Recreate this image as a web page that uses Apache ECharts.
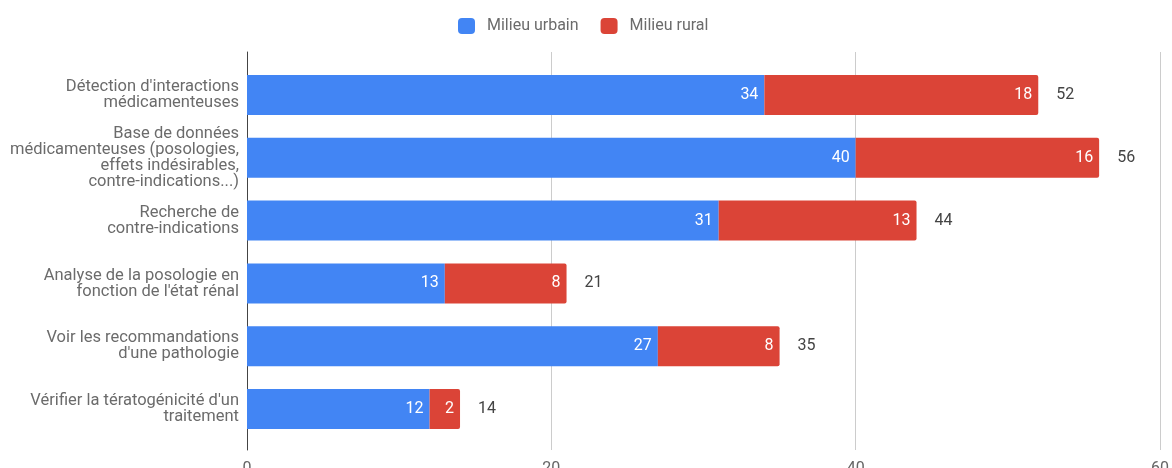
<!DOCTYPE html>
<html>
<head>
<meta charset="utf-8">
<script src="https://cdn.jsdelivr.net/npm/echarts@6/dist/echarts.min.js"></script>
<style>
  html, body { margin: 0; padding: 0; background: #fff; }
  #chart { width: 1172px; height: 468px; }
</style>
</head>
<body>
<div id="chart"></div>
<script>
var categories = [
    "Détection d'interactions\nmédicamenteuses",
    "Base de données\nmédicamenteuses (posologies,\neffets indésirables,\ncontre-indications...)",
    "Recherche de\ncontre-indications",
    "Analyse de la posologie en\nfonction de l'état rénal",
    "Voir les recommandations\nd'une pathologie",
    "Vérifier la tératogénicité d'un\ntraitement"
];
var urbain = [34, 40, 31, 13, 27, 12];
var rural = [18, 16, 13, 8, 8, 2];
var totals = [52, 56, 44, 21, 35, 14];
var xTicks = [0, 20, 40, 60];

var mychart = echarts.init(document.getElementById('chart'));
var font = 'Roboto, Arial, sans-serif';

var option = {
    animation: false,
    textStyle: { fontFamily: font },
    legend: {
        data: ['Milieu urbain', 'Milieu rural'],
        top: 18,
        left: 458,
        padding: 0,
        itemWidth: 17,
        itemHeight: 16,
        itemGap: 22,
        icon: 'roundRect',
        textStyle: { fontSize: 16, color: '#6b6b6b', fontFamily: font, padding: [0, 0, 0, 7] }
    },
    grid: [
        // fond : lignes de grille et graduations
        { left: 247, right: 12, top: 52, height: 398, outerBoundsMode: 'none' },
        // barres
        { left: 247, right: 12, top: 63.5, height: 377, outerBoundsMode: 'none' }
    ],
    xAxis: [
        {
            gridIndex: 0,
            type: 'value',
            min: xTicks[0],
            max: xTicks[xTicks.length - 1],
            interval: 20,
            axisLine: { show: false },
            axisTick: { show: false },
            axisLabel: { fontSize: 16, color: '#666', margin: 11, fontFamily: font },
            splitLine: { show: true, lineStyle: { color: '#cccccc', width: 1 } }
        },
        {
            gridIndex: 1,
            type: 'value',
            min: 0,
            max: 60,
            show: false
        }
    ],
    yAxis: [
        {
            gridIndex: 0,
            type: 'value',
            axisLine: { show: true, lineStyle: { color: '#444', width: 1 } },
            axisTick: { show: false },
            axisLabel: { show: false },
            splitLine: { show: false }
        },
        {
            gridIndex: 1,
            type: 'category',
            inverse: true,
            data: categories,
            axisLine: { show: false },
            axisTick: { show: false },
            axisLabel: {
                fontSize: 16.5,
                color: '#6b6b6b',
                margin: 8,
                lineHeight: 16,
                align: 'right',
                fontFamily: font
            }
        }
    ],
    series: [
        {
            name: 'Milieu urbain',
            type: 'bar',
            xAxisIndex: 1,
            yAxisIndex: 1,
            stack: 'total',
            barWidth: 40,
            data: urbain,
            itemStyle: { color: '#4285F4' },
            label: {
                show: true,
                position: 'insideRight',
                distance: 6,
                color: '#fff',
                fontSize: 16,
                fontFamily: font
            }
        },
        {
            name: 'Milieu rural',
            type: 'bar',
            xAxisIndex: 1,
            yAxisIndex: 1,
            stack: 'total',
            barWidth: 40,
            data: rural,
            itemStyle: { color: '#DB4437', borderRadius: [0, 2, 2, 0] },
            label: {
                show: true,
                position: 'insideRight',
                distance: 6,
                color: '#fff',
                fontSize: 16,
                fontFamily: font
            }
        },
        {
            name: 'Total',
            type: 'bar',
            xAxisIndex: 1,
            yAxisIndex: 1,
            stack: 'total',
            barWidth: 40,
            data: totals.map(function () { return 0; }),
            itemStyle: { color: 'transparent' },
            silent: true,
            label: {
                show: true,
                position: 'right',
                distance: 18,
                color: '#444',
                fontSize: 16,
                fontFamily: font,
                formatter: function (p) { return totals[p.dataIndex]; }
            }
        }
    ]
};
mychart.setOption(option);
</script>
</body>
</html>
